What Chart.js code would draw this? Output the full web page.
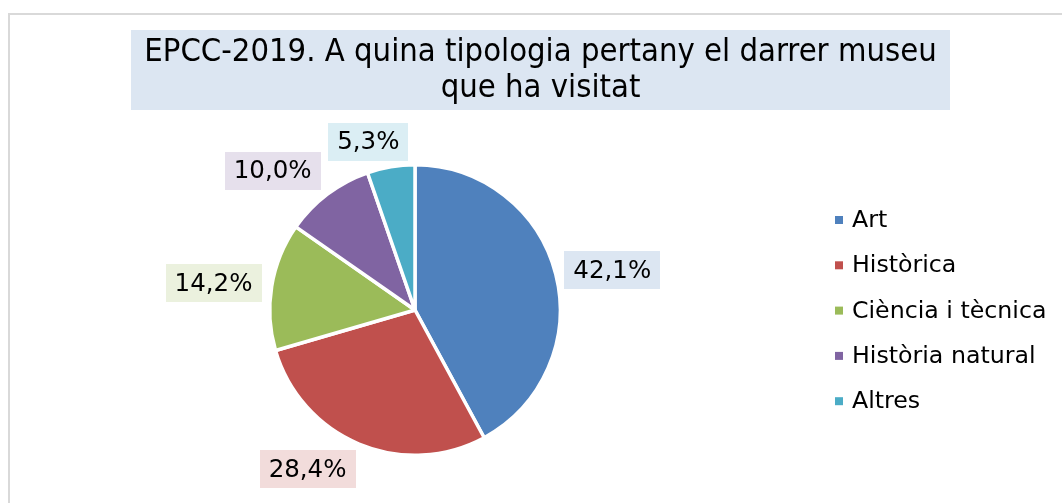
<!DOCTYPE html>
<html>
<head>
<meta charset="utf-8">
<script src="https://cdn.jsdelivr.net/npm/chart.js@4.4.1/dist/chart.umd.min.js"></script>
<style>
html,body{margin:0;padding:0;background:#fff;}
canvas{display:block;}
</style>
</head>
<body>
<canvas id="c" width="1062" height="503"></canvas>
<script>
const titleLines = ["EPCC-2019. A quina tipologia pertany el darrer museu", "que ha visitat"];
const categories = ["Art", "Històrica", "Ciència i tècnica", "Història natural", "Altres"];
const values = [42.1, 28.4, 14.2, 10.0, 5.3];
const colors = ["#4f81bd", "#c0504d", "#9bbb59", "#8064a2", "#4bacc6"];
const labelBgColors = ["#dce6f2", "#f2dcdb", "#ebf1de", "#e6e0ec", "#dbeef4"];
// label placement: angular nudge (deg) and distance beyond radius (px)
const labelNudge = [2.8, 11.3, -1.8, -8.5, -6.0];
const labelDist = [56, 47, 58, 54, 29];

const fmt = v => v.toFixed(1).replace('.', ',') + '%';

const decor = {
  id: 'decor',
  beforeDraw(chart) {
    const ctx = chart.ctx;
    ctx.save();
    ctx.fillStyle = '#fff';
    ctx.fillRect(0, 0, chart.width, chart.height);
    ctx.fillStyle = '#d9d9d9';
    ctx.fillRect(8, 13, chart.width - 8, 2);
    ctx.fillRect(8, 13, 2, chart.height - 13);
    // title box
    ctx.fillStyle = '#dce6f2';
    ctx.fillRect(131, 30, 819, 80);
    ctx.fillStyle = '#000';
    ctx.font = '32.5px "DejaVu Sans Condensed", "DejaVu Sans"';
    ctx.textAlign = 'center';
    ctx.textBaseline = 'middle';
    ctx.fillText(titleLines[0], 540.5, 53);
    ctx.fillText(titleLines[1], 540.5, 89);
    ctx.restore();
  },
  afterDraw(chart) {
    const ctx = chart.ctx;
    const meta = chart.getDatasetMeta(0);
    ctx.save();
    ctx.font = '24.5px "DejaVu Sans"';
    ctx.textAlign = 'center';
    ctx.textBaseline = 'middle';
    meta.data.forEach((arc, i) => {
      const mid = (arc.startAngle + arc.endAngle) / 2 + labelNudge[i] * Math.PI / 180;
      const d = arc.outerRadius + labelDist[i];
      const cx = arc.x + Math.cos(mid) * d;
      const cy = arc.y + Math.sin(mid) * d;
      const txt = fmt(chart.data.datasets[0].data[i]);
      const w = ctx.measureText(txt).width + 18;
      const h = 38;
      ctx.fillStyle = labelBgColors[i];
      ctx.fillRect(Math.round(cx - w / 2), Math.round(cy - h / 2), Math.round(w), h);
      ctx.fillStyle = '#000';
      ctx.fillText(txt, cx, cy + 1);
    });
    // legend
    ctx.font = '23.7px "DejaVu Sans"';
    ctx.textAlign = 'left';
    chart.data.labels.forEach((lab, i) => {
      const y = 220 + i * 45.3;
      ctx.fillStyle = chart.data.datasets[0].backgroundColor[i];
      ctx.fillRect(835, y - 4, 8, 8);
      ctx.fillStyle = '#000';
      ctx.fillText(lab, 852, y + 1);
    });
    ctx.restore();
  }
};

new Chart(document.getElementById('c'), {
  type: 'pie',
  data: {
    labels: categories,
    datasets: [{
      data: values,
      backgroundColor: colors,
      borderColor: '#ffffff',
      borderWidth: 3.5
    }]
  },
  options: {
    responsive: false,
    devicePixelRatio: 1,
    animation: false,
    layout: { padding: { left: 268, right: 500, top: 163, bottom: 46 } },
    plugins: {
      legend: { display: false },
      tooltip: { enabled: false },
      title: { display: false }
    }
  },
  plugins: [decor]
});
</script>
</body>
</html>
